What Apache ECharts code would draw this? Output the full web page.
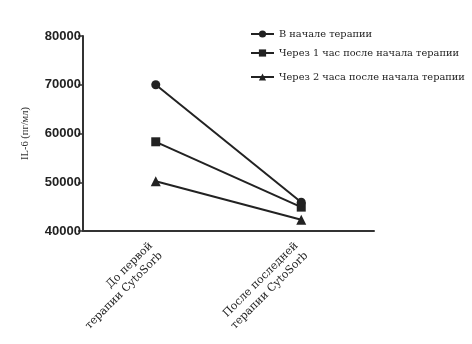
<!DOCTYPE html>
<html><head><meta charset="utf-8">
<script src="https://cdn.jsdelivr.net/npm/echarts@6/dist/echarts.min.js"></script>
<style>html,body{margin:0;padding:0;background:#fff}#c{width:472px;height:344px}</style>
</head><body><div id="c"></div>
<script>
const categories = ['До первой\nтерапии CytoSorb', 'После последней\nтерапии CytoSorb'];
const seriesNames = ['В начале терапии', 'Через 1 час после начала терапии', 'Через 2 часа после начала терапии'];
const startValues = [70000, 58300, 50200];
const endValues = [45900, 44900, 42300];
const yTicks = [40000, 50000, 60000, 70000, 80000];
const symbols = ['circle', 'rect', 'triangle'];

const serif = '"DejaVu Serif", "Liberation Serif", serif';
const chart = echarts.init(document.getElementById('c'));
const series = seriesNames.map((n, i) => ({
  name: n, type: 'line', data: [startValues[i], endValues[i]],
  symbol: symbols[i], symbolSize: i === 2 ? 10 : 9,
  lineStyle: { color: '#222', width: 2 }, itemStyle: { color: '#222' },
  z: 3 - i
}));
const legendTops = [24, 43, 67];
chart.setOption({
  animation: false,
  legend: seriesNames.map((n, i) => ({
    data: [n], left: 245, top: legendTops[i], itemWidth: 23, itemHeight: 9, itemGap: 5,
    textStyle: { fontFamily: serif, fontSize: 9.8, color: '#222' }
  })),
  grid: { left: 83, right: 98, top: 36, bottom: 113 },
  xAxis: {
    type: 'category', data: categories, boundaryGap: true,
    axisLine: { lineStyle: { color: '#333', width: 2 } },
    axisTick: { alignWithLabel: true, length: 6, lineStyle: { color: '#333', width: 1.5 } },
    axisLabel: { rotate: 45, fontFamily: serif, fontSize: 11, color: '#222', margin: 18, lineHeight: 14 }
  },
  yAxis: {
    type: 'value', min: yTicks[0], max: yTicks[yTicks.length - 1], interval: 10000,
    name: 'IL-6 (пг/мл)', nameLocation: 'middle', nameGap: 52,
    nameTextStyle: { fontFamily: '"Liberation Serif", serif', fontSize: 10.5, color: '#333' },
    axisLine: { show: true, lineStyle: { color: '#333', width: 2 } },
    axisTick: { show: true, length: 5, lineStyle: { color: '#333', width: 1.5 } },
    splitLine: { show: false },
    axisLabel: { fontFamily: '"Liberation Sans", Arial, sans-serif', fontWeight: 'bold', fontSize: 13, color: '#222', margin: 2,
      formatter: v => String(v) }
  },
  series: series
});
</script></body></html>
